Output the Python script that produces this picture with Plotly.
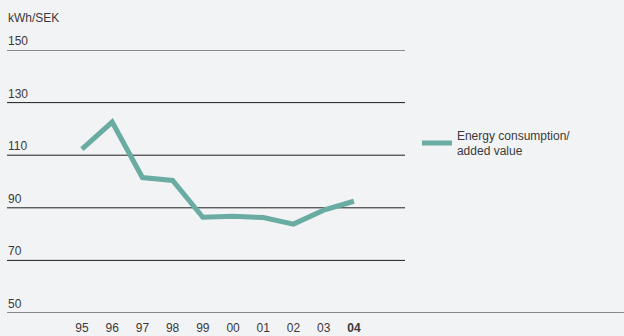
import plotly.graph_objects as go

# Energy consumption per added value, kWh/SEK
years = ["95", "96", "97", "98", "99", "00", "01", "02", "03", "04"]
year_labels = ["95", "96", "97", "98", "99", "00", "01", "02", "03", "<b>04</b>"]
energy_per_value = [112.3, 122.6, 101.5, 100.4, 86.4, 86.8, 86.3, 83.8, 89.1, 92.5]
y_ticks = [50, 70, 90, 110, 130, 150]

BG = "#f2f3f5"
TEAL = "#6aaca2"
RULE = "#1e1e1e"
TEXT = "#3a3a3a"
FONT = "Liberation Sans, Arial, sans-serif"

x_idx = list(range(len(years)))

fig = go.Figure()
fig.add_trace(go.Scatter(
    x=x_idx, y=energy_per_value, mode="lines",
    line=dict(color=TEAL, width=5),
    name="Energy consumption/<br>added value",
    showlegend=True,
))

# horizontal rules at each tick value; the baseline runs the full width
shapes = []
for v in y_ticks:
    shapes.append(dict(
        type="line", xref="paper", yref="y",
        x0=0, x1=(1.55 if v == y_ticks[0] else 1), y0=v, y1=v,
        line=dict(color=RULE, width=1), layer="below",
    ))

annotations = [dict(
    xref="paper", yref="y", x=0, y=v, xanchor="left", yanchor="bottom",
    text=str(v), showarrow=False, borderpad=0, yshift=1,
    font=dict(size=12, color=TEXT, family=FONT),
) for v in y_ticks]
annotations.append(dict(
    xref="paper", yref="paper", x=0, y=1.12, xanchor="left", yanchor="middle",
    text="kWh/SEK", showarrow=False, borderpad=0,
    font=dict(size=12, color=TEXT, family=FONT),
))

fig.update_layout(
    width=624, height=336,
    margin=dict(l=7, r=219, t=49.5, b=23, autoexpand=False),
    paper_bgcolor=BG, plot_bgcolor=BG,
    font=dict(family=FONT, size=12, color=TEXT),
    xaxis=dict(
        range=[-2.48, 10.69], tickmode="array", tickvals=x_idx, ticktext=year_labels,
        showgrid=False, zeroline=False, showline=False, ticks="",
        ticklabelstandoff=6, automargin=False,
        tickfont=dict(size=12, color=TEXT, family=FONT),
    ),
    yaxis=dict(
        range=[50, 150], showgrid=False, zeroline=False, showline=False,
        showticklabels=False, ticks="", automargin=False,
    ),
    shapes=shapes,
    annotations=annotations,
    legend=dict(
        x=1.03, y=0.645, xanchor="left", yanchor="middle",
        bgcolor="rgba(0,0,0,0)", borderwidth=0,
        font=dict(size=12, color=TEXT, family=FONT),
        itemwidth=30,
    ),
)

fig.write_html("out.html")
